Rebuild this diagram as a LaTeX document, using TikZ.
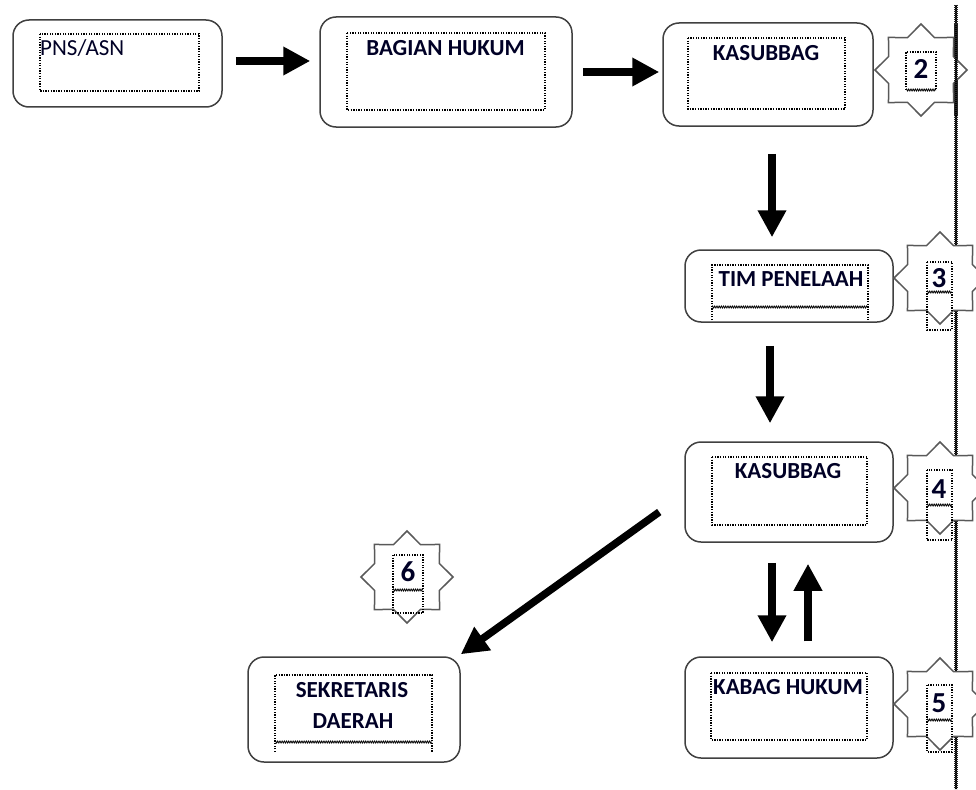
\documentclass[tikz,border=0pt]{standalone}
\usepackage{fontspec}
\setmainfont{Carlito}
\usetikzlibrary{arrows.meta,shapes.geometric,calc,decorations.pathmorphing}
\begin{document}
\begin{tikzpicture}[x=1pt,y=-1pt,
  box/.style={draw=black!75,line width=1.5pt,rounded corners=16pt,fill=white,inner sep=0pt},
  dotbox/.style={draw=black,line width=1.4pt,dash pattern=on 1.3pt off 1.3pt},
  wav/.style={draw=black,line width=0.8pt,decorate,decoration={zigzag,amplitude=1pt,segment length=2.2pt}},
  lbl/.style={font=\fontsize{23}{27}\selectfont\bfseries,inner sep=0pt,text=black!85!blue},
  plain/.style={font=\fontsize{23}{27}\selectfont,inner sep=0pt,text=black!85!blue},
  num/.style={font=\fontsize{29}{32}\selectfont\bfseries,inner sep=0pt,text=black!85!blue},
  starbox/.style={star,star points=8,star point ratio=1.31,minimum size=92pt,draw=black!65,line width=1.5pt,fill=white,inner sep=0pt},
  arr/.style={line width=7.5pt,-{Triangle[length=27pt,width=27pt]}}]

\useasboundingbox (0,0) rectangle (976,789);

% right-hand ruler line
\draw[line width=1.8pt] (956,5) -- (956,789);
\draw[line width=4.5pt,black!85,dash pattern=on 0.9pt off 1.1pt] (956,5) -- (956,789);

% boxes
\node[box,minimum width=209pt,minimum height=87pt] (pns) at (117.5,63.5) {};
\node[box,minimum width=252pt,minimum height=110pt] (bag) at (446,72) {};
\node[box,minimum width=210pt,minimum height=103pt] (kas1) at (768,74.5) {};
\node[box,minimum width=208pt,minimum height=72pt] (tim) at (789,286) {};
\node[box,minimum width=208pt,minimum height=100pt] (kas2) at (789,492) {};
\node[box,minimum width=208pt,minimum height=101pt] (kab) at (789,707.5) {};
\node[box,minimum width=212pt,minimum height=105pt] (sek) at (354,709.5) {};

% inner dotted frames
\draw[dotbox] (40,34) rectangle (199,91);
\draw[dotbox] (347,33) rectangle (545,110);
\draw[dotbox] (688,38) rectangle (845,109);
\draw[dotbox] (712,320) -- (712,265) -- (868,265) -- (868,320);
\draw[wav] (712,307) -- (868,307);
\draw[dotbox] (712,457) rectangle (867,525);
\draw[dotbox] (711,673) rectangle (867,740);
\draw[dotbox] (275,752) -- (275,675) -- (432,675) -- (432,752);
\draw[wav] (275,742) -- (432,742);

% labels
\node[plain,anchor=west] (tpns) at (40,48) {PNS/ASN};
\node[lbl] (tbag) at (445.5,48.5) {BAGIAN HUKUM};
\node[lbl] (tkas1) at (766,53) {KASUBBAG};
\node[lbl] (ttim) at (791,279) {TIM PENELAAH};
\node[lbl] (tkas2) at (788,471) {KASUBBAG};
\node[lbl] (tkab) at (788,687) {KABAG HUKUM};
\node[lbl] (tsek1) at (352,690) {SEKRETARIS};
\node[lbl] (tsek2) at (353,721) {DAERAH};

% stars
\node[starbox] (s3) at (940,278) {};
\node[starbox] (s4) at (940,488) {};
\node[starbox] (s5) at (940,704) {};
\node[starbox] (s6) at (407,577) {};
\node[starbox] (s2) at (921,70) {};
\draw[line width=1.8pt] (956,24) -- (956,116);
\draw[line width=4.5pt,black!85,dash pattern=on 0.9pt off 1.1pt] (956,24) -- (956,116);

% number frames
\draw[dotbox] (906,90) -- (906,52) -- (936,52) -- (936,90);
\draw[wav] (906,90) -- (936,90);
\draw[dotbox] (927,262) rectangle (952,330);
\draw[wav] (927,292) -- (952,292);
\draw[dotbox] (927,470) rectangle (952,540);
\draw[wav] (927,505) -- (952,505);
\draw[dotbox] (927,685) rectangle (952,752);
\draw[wav] (927,720) -- (952,720);
\draw[dotbox] (393,555) rectangle (423,613);
\draw[wav] (393,590) -- (423,590);

\node[num] (n2) at (921,69) {2};
\node[num] (n3) at (939,278) {3};
\node[num] (n4) at (939,489) {4};
\node[num] (n5) at (939,703) {5};
\node[num] (n6) at (408,572) {6};

% arrows
\draw[arr] ($(pns.east)+(13,-2.5)$) -- ($(bag.west)+(-9,-11)$);
\draw[arr] ($(bag.east)+(10,0)$) -- ($(kas1.west)+(-3,-2.5)$);
\draw[arr] ($(kas1.south)+(4,27)$) -- ($(tim.north)+(-17,-12)$);
\draw[arr] ($(tim.south)+(-19,23)$) -- ($(kas2.north)+(-19,-18)$);
\draw[arr] ($(kas2.south)+(-17,20)$) -- ($(kab.north)+(-17,-14)$);
\draw[arr] ($(kab.north)+(19,-15)$) -- ($(kas2.south)+(19,21)$);
\draw[arr] ($(kas2.west)+(-25,20)$) -- ($(sek.north east)+(0,-2)$);

\end{tikzpicture}
\end{document}
